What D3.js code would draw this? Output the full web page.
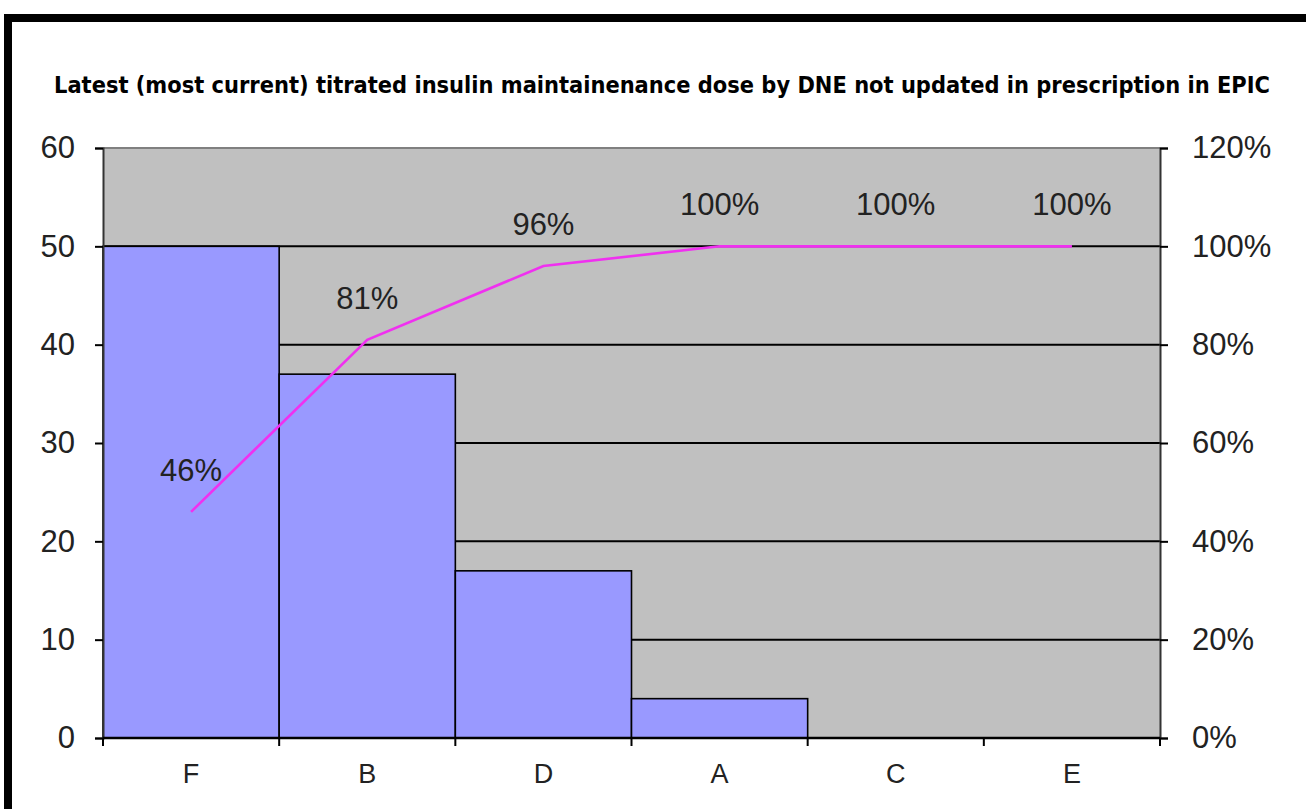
<!DOCTYPE html>
<html>
<head>
<meta charset="utf-8">
<script src="https://cdn.jsdelivr.net/npm/d3@7"></script>
<style>
  html, body { margin: 0; padding: 0; background: #fff; }
  svg { display: block; }
</style>
</head>
<body>
<svg id="chart" width="1306" height="809"></svg>
<script>
// Pareto data: count per category and the running cumulative share (%)
const categories = ["F", "B", "D", "A", "C", "E"];
const counts = [50, 37, 17, 4, 0, 0];
const cumulativePct = [46, 81, 96, 100, 100, 100];
const countTicks = [0, 10, 20, 30, 40, 50, 60];
const pctTicks = [0, 20, 40, 60, 80, 100, 120];
const titleText = "Latest (most current) titrated insulin maintainenance dose by DNE not updated in prescription in EPIC";

const svg = d3.select("#chart");

// frame
svg.append("rect")
  .attr("x", 8).attr("y", 18)
  .attr("width", 1400).attr("height", 900)
  .attr("fill", "#fff")
  .attr("stroke", "#000").attr("stroke-width", 8);

const plot = { left: 103, right: 1160, top: 148, bottom: 738 };

const x = d3.scaleBand().domain(categories).range([plot.left, plot.right]).padding(0);
const y = d3.scaleLinear().domain([0, 60]).range([plot.bottom, plot.top]);
const y2 = d3.scaleLinear().domain([0, 120]).range([plot.bottom, plot.top]);

// title: condensed bold face, stretched vertically
svg.append("g")
  .attr("transform", "translate(662,93) scale(1,1.2)")
  .append("text")
  .attr("x", 0).attr("y", 0)
  .attr("text-anchor", "middle")
  .attr("textLength", 1216)
  .attr("lengthAdjust", "spacingAndGlyphs")
  .attr("font-family", "DejaVu Sans, Verdana, sans-serif")
  .attr("font-weight", "bold")
  .attr("font-size", 19)
  .attr("fill", "#000")
  .text(titleText);

// plot background
svg.append("rect")
  .attr("x", plot.left).attr("y", plot.top)
  .attr("width", plot.right - plot.left).attr("height", plot.bottom - plot.top)
  .attr("fill", "#c0c0c0");

// horizontal gridlines
svg.append("g")
  .selectAll("line")
  .data(countTicks.filter(t => t > 0 && t < 60))
  .join("line")
  .attr("x1", plot.left).attr("x2", plot.right)
  .attr("y1", d => y(d)).attr("y2", d => y(d))
  .attr("stroke", "#000").attr("stroke-width", 2);

// top edge of plot area
svg.append("line")
  .attr("x1", plot.left).attr("x2", plot.right)
  .attr("y1", plot.top).attr("y2", plot.top)
  .attr("stroke", "#808080").attr("stroke-width", 2);

// bars
svg.append("g")
  .selectAll("rect")
  .data(categories.map((c, i) => ({ c, v: counts[i] })).filter(d => d.v > 0))
  .join("rect")
  .attr("x", d => x(d.c))
  .attr("y", d => y(d.v))
  .attr("width", x.bandwidth())
  .attr("height", d => y(0) - y(d.v))
  .attr("fill", "#9999ff")
  .attr("stroke", "#000").attr("stroke-width", 1.6);

// left axis
const leftAxis = d3.axisLeft(y).tickValues(countTicks).tickSize(8).tickPadding(20)
  .tickFormat(d3.format("d"));
const gl = svg.append("g").attr("transform", `translate(${plot.left},0)`).call(leftAxis);
gl.select(".domain").attr("stroke", "#333").attr("stroke-width", 2);
gl.selectAll(".tick line").attr("stroke", "#000").attr("stroke-width", 2);
gl.selectAll(".tick text")
  .attr("font-family", "Liberation Sans, Arial, sans-serif")
  .attr("font-size", 31).attr("fill", "#222");

// right axis
const rightAxis = d3.axisRight(y2).tickValues(pctTicks).tickSize(8).tickPadding(24)
  .tickFormat(d => d + "%");
const gr = svg.append("g").attr("transform", `translate(${plot.right},0)`).call(rightAxis);
gr.select(".domain").attr("stroke", "#333").attr("stroke-width", 2);
gr.selectAll(".tick line").attr("stroke", "#000").attr("stroke-width", 2);
gr.selectAll(".tick text")
  .attr("font-family", "Liberation Sans, Arial, sans-serif")
  .attr("font-size", 31).attr("fill", "#222");

// bottom axis: ticks at category boundaries, labels at band centres
const bottom = svg.append("g");
bottom.append("line")
  .attr("x1", plot.left).attr("x2", plot.right)
  .attr("y1", plot.bottom).attr("y2", plot.bottom)
  .attr("stroke", "#000").attr("stroke-width", 2.5);
const boundaries = categories.map(c => x(c)).concat([x.range()[1]]);
bottom.selectAll("line.tick")
  .data(boundaries)
  .join("line")
  .attr("class", "tick")
  .attr("x1", d => d).attr("x2", d => d)
  .attr("y1", plot.bottom).attr("y2", plot.bottom + 8)
  .attr("stroke", "#000").attr("stroke-width", 2);
bottom.selectAll("text")
  .data(categories)
  .join("text")
  .attr("x", d => x(d) + x.bandwidth() / 2)
  .attr("y", 783)
  .attr("text-anchor", "middle")
  .attr("font-family", "Liberation Sans, Arial, sans-serif")
  .attr("font-size", 27).attr("fill", "#222")
  .text(d => d);

// cumulative line
const pts = categories.map((c, i) => ({ c, p: cumulativePct[i] }));
svg.append("path")
  .datum(pts)
  .attr("fill", "none")
  .attr("stroke", "#f030f0")
  .attr("stroke-width", 2.6)
  .attr("d", d3.line().x(d => x(d.c) + x.bandwidth() / 2).y(d => y2(d.p)));

// cumulative labels
svg.append("g")
  .selectAll("text")
  .data(pts)
  .join("text")
  .attr("x", d => x(d.c) + x.bandwidth() / 2)
  .attr("y", d => y2(d.p) - 31)
  .attr("text-anchor", "middle")
  .attr("font-family", "Liberation Sans, Arial, sans-serif")
  .attr("font-size", 31).attr("fill", "#222")
  .text(d => d.p + "%");
</script>
</body>
</html>
